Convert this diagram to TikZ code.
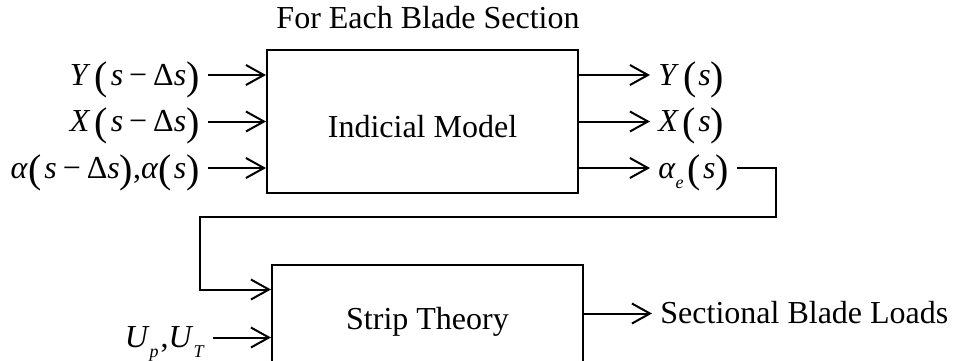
\documentclass[tikz,border=0pt]{standalone}
\usepackage{fontspec}
\setmainfont{Liberation Serif}
\usetikzlibrary{arrows.meta}
\tikzset{
  sigln/.style={-{Straight Barb[length=9pt,width=10pt,line width=1pt]},line width=1pt},
  blkbox/.style={draw,line width=1pt,minimum width=155.5pt,inner sep=0pt,
    text height=15.5pt,text depth=0pt},
  iolbl/.style={inner ysep=0pt,inner xsep=4pt,text height=12pt,text depth=2pt},
}
\newcommand{\vi}[1]{\textit{#1}}
\newcommand{\lpr}{\raisebox{-2pt}{\fontsize{20}{20}\selectfont(}}
\newcommand{\rpr}{\raisebox{-2pt}{\fontsize{20}{20}\selectfont)}}
\newcommand{\lowsub}[1]{\raisebox{-5pt}{\fontsize{9}{9}\selectfont\textit{#1}}}
\newcommand{\dif}{\kern1.5pt\vi{s}\kern3pt−\kern3ptΔ\vi{s}}

\begin{document}
\begin{tikzpicture}[x=0.5pt,y=-0.5pt,every node/.style={font=\fontsize{16}{19}\selectfont}]
  \clip (0,0) rectangle (957,360);
  % blocks
  \node[blkbox,minimum height=71.5pt] (indicial) at (422.5,121.5) {Indicial Model};
  \node[blkbox,minimum height=49pt] (strip) at (427.5,313.5) {Strip Theory};
  \node[anchor=base] (title) at (428,28) {For Each Blade Section};
  % inputs and outputs of the indicial model
  \node[iolbl,anchor=east] (inY) at (208,75) {\vi{Y}\kern2pt\lpr\dif\rpr};
  \node[iolbl,anchor=east] (inX) at (208,121.5) {\vi{X}\kern2pt\lpr\dif\rpr};
  \node[iolbl,anchor=east] (inA) at (208,168) {\vi{α}\lpr\dif\rpr,\vi{α}\lpr\kern1pt\vi{s}\rpr};
  \node[iolbl,anchor=west] (outY) at (650,75) {\vi{Y}\kern2pt\lpr\kern1pt\vi{s}\rpr};
  \node[iolbl,anchor=west] (outX) at (650,121.5) {\vi{X}\kern2pt\lpr\kern1pt\vi{s}\rpr};
  \node[iolbl,anchor=west] (outA) at (650,168) {\vi{α}\lowsub{e}\kern2pt\lpr\kern1pt\vi{s}\rpr};
  \foreach \n in {inY,inX,inA}
    \draw[sigln] (\n.east) -- (\n.east -| indicial.west);
  \foreach \n in {outY,outX,outA}
    \draw[sigln] (\n.west -| indicial.east) -- (\n.west);
  % feedback of the effective angle
  \coordinate (turnR) at (776,217);
  \coordinate (turnL) at (200,217);
  \draw[sigln] (outA.east) -| (turnR) -- (turnL) |- ([yshift=12pt]strip.west);
  % strip theory
  \node[iolbl,anchor=east] (inU) at (213,337.5) {\vi{U}\lowsub{p}\kern1pt,\vi{U}\lowsub{T}};
  \node[iolbl,anchor=west] (loads) at (652,313.5) {Sectional Blade Loads};
  \draw[sigln] (inU.east) -- ([yshift=-12pt]strip.west);
  \draw[sigln] (strip.east) -- (loads.west);
\end{tikzpicture}
\end{document}
